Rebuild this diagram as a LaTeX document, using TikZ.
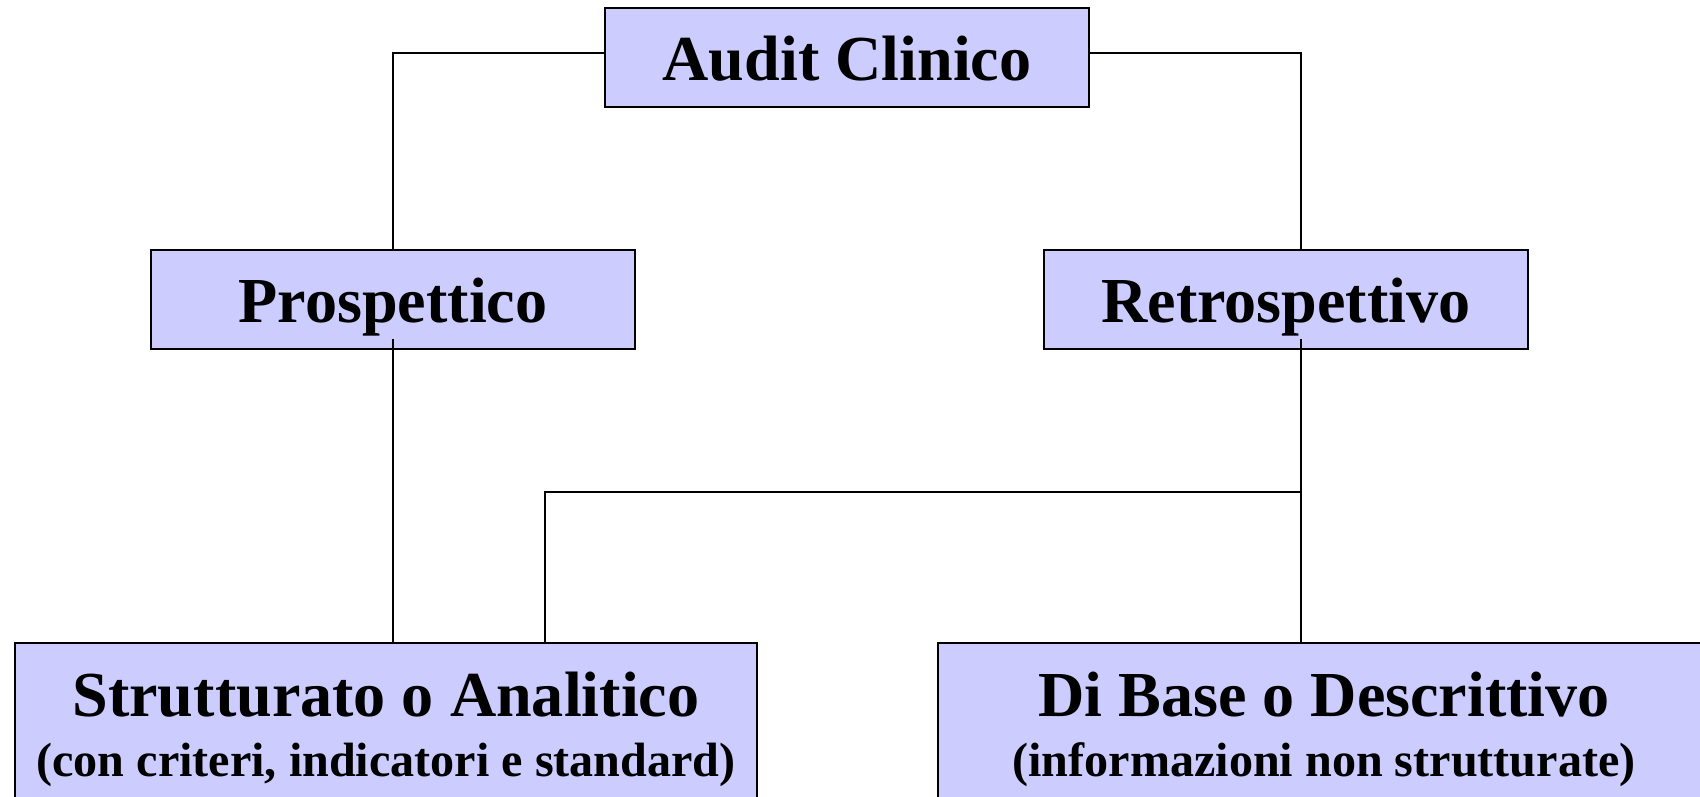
\documentclass[tikz,border=0pt]{standalone}
\usepackage{fontspec}
\setmainfont{Liberation Serif}
\definecolor{lavender}{RGB}{204,204,255}

\begin{document}
\begin{tikzpicture}
		[x=0.02cm, y=0.02cm,
		box/.style ={rectangle, draw=black, line width=1.1pt, fill=lavender, inner sep=0pt, font=\bfseries\fontsize{36.5}{30.1}\selectfont},
		block/.style ={box, minimum width=9.68cm, minimum height=1.98cm, text height=26pt, text depth=0pt},
		wide/.style ={box, minimum width=14.84cm, minimum height=3.28cm, text height=64pt, text depth=5pt, align=center},
		line/.style ={draw, line width=1.1pt},
		]
		\useasboundingbox (0,0) rectangle (1700,-796);
		\clip (0,0) rectangle (1700,-796);

		\coordinate (J) at (1301,-492);
		\coordinate (K) at (545,-492);

		\draw (847,-57.5) node[block] (AC) {Audit Clinico};
		\draw (393,-299.5) node[block] (P) {Prospettico};
		\draw (1286,-299.5) node[block] (R) {Retrospettivo};
		\draw (386,-725) node[wide] (SA) {Strutturato o Analitico\\[4.5pt]{\fontsize{27.4}{30.1}\selectfont (con criteri, indicatori e standard)}};
		\draw (1324,-725) node[wide, minimum width=15.44cm] (DB) {Di Base o Descrittivo\\[4.5pt]{\fontsize{27.4}{30.1}\selectfont (informazioni non strutturate)}};

		\path[line]
		([yshift=0.09cm]AC.west) -| (P.north)
		([yshift=0.09cm]AC.east) -| ([xshift=0.3cm]R.north)
		([yshift=0.22cm]P.south) -- (P.south |- SA.north)
		([xshift=0.3cm, yshift=0.22cm]R.south) -- ([xshift=0.3cm]R.south |- DB.north)
		(J) -- (K) -- (K |- SA.north);

	\end{tikzpicture}
\end{document}
